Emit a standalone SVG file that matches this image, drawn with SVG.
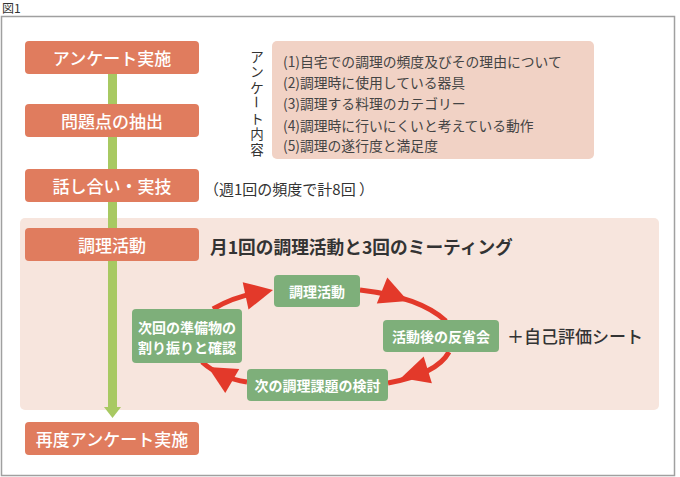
<svg xmlns="http://www.w3.org/2000/svg" xmlns:xlink="http://www.w3.org/1999/xlink" width="680" height="477" viewBox="0 0 680 477">
<style>
text{font-family:"Noto Sans CJK JP","Noto Sans",sans-serif;}
.ob{fill:#E07C5E;}
.ot{fill:#fff;font-size:17px;font-weight:500;text-anchor:middle;dominant-baseline:central;}
.gb{fill:#7EAF7A;}
.gt{fill:#fff;font-size:14px;font-weight:bold;text-anchor:middle;dominant-baseline:central;}
.dk{fill:#333;}
.li{fill:#444;font-size:13.8px;dominant-baseline:central;}
.vt{fill:#333;font-size:13.5px;text-anchor:middle;dominant-baseline:central;}
.red{fill:none;stroke:#E3392A;stroke-width:5;}
</style>
<defs>
<polygon id="ah" points="0,0 -28,-14 -28,14" fill="#E3392A"/>
</defs>
<text x="2" y="13" font-size="12" class="dk">図1</text>
<rect x="1.5" y="16.5" width="673" height="459" fill="#fff" stroke="#a0a0a0" stroke-width="1.5"/>
<rect x="20" y="218" width="639" height="192" rx="5" fill="#F7E5DD"/>
<g id="survey-items">
<rect x="272" y="41" width="322" height="118" rx="5" fill="#F1D2C5"/>
<text x="283" y="61" class="li">(1)自宅での調理の頻度及びその理由について</text>
<text x="283" y="82" class="li">(2)調理時に使用している器具</text>
<text x="283" y="103" class="li">(3)調理する料理のカテゴリー</text>
<text x="283" y="124.5" class="li">(4)調理時に行いにくいと考えている動作</text>
<text x="283" y="145" class="li">(5)調理の遂行度と満足度</text>
</g>
<g id="survey-label">
<text class="vt" x="257" y="55.5">ア</text>
<text class="vt" x="257" y="71">ン</text>
<text class="vt" x="257" y="86.5">ケ</text>
<text class="vt" x="257" y="102" transform="rotate(90 257 102)">ー</text>
<text class="vt" x="257" y="117.5">ト</text>
<text class="vt" x="257" y="133">内</text>
<text class="vt" x="257" y="148.5">容</text>
</g>
<g id="connectors">
<rect x="108" y="74" width="9" height="334" fill="#A8C962"/>
<polygon points="104,407 121,407 112.5,418" fill="#A8C962"/>
<path class="red" d="M213,309 Q235,296 262,292"/>
<use xlink:href="#ah" transform="translate(273,290) rotate(-12)"/>
<path class="red" d="M360,290 Q420,297 446,321"/>
<use xlink:href="#ah" transform="translate(408,301) rotate(22)"/>
<path class="red" d="M449,352 Q437,374 388,383"/>
<use xlink:href="#ah" transform="translate(401,378) rotate(163)"/>
<path class="red" d="M247,382 Q220,378 202,362"/>
<use xlink:href="#ah" transform="translate(208,367) rotate(210)"/>
</g>
<g id="n1"><rect class="ob" x="25" y="41" width="174" height="33" rx="4"/><text class="ot" x="112" y="57.5">アンケート実施</text></g>
<g id="n2"><rect class="ob" x="25" y="104" width="174" height="33" rx="4"/><text class="ot" x="112" y="120.5">問題点の抽出</text></g>
<g id="n3"><rect class="ob" x="25" y="169" width="174" height="33" rx="4"/><text class="ot" x="112" y="185.5">話し合い・実技</text></g>
<g id="n3-note"><text x="204" y="188" font-size="15" class="dk" dominant-baseline="central">（週1回の頻度で計8回 ）</text></g>
<g id="n4"><rect class="ob" x="25" y="228" width="174" height="33" rx="4"/><text class="ot" x="112" y="244.5">調理活動</text></g>
<g id="n4-note"><text x="210" y="246" font-size="17.7" font-weight="bold" class="dk" dominant-baseline="central">月1回の調理活動と3回のミーティング</text></g>
<g id="n5"><rect class="ob" x="25" y="422" width="174" height="33" rx="4"/><text class="ot" x="112" y="438.5">再度アンケート実施</text></g>
<g id="c1"><rect class="gb" x="274" y="275" width="86" height="32" rx="4"/><text class="gt" x="317" y="291">調理活動</text></g>
<g id="c2"><rect class="gb" x="383" y="320" width="116" height="32" rx="4"/><text class="gt" x="441" y="336">活動後の反省会</text></g>
<g id="c2-note"><text x="507" y="335" font-size="17" font-weight="500" class="dk" dominant-baseline="central">＋自己評価シート</text></g>
<g id="c3"><rect class="gb" x="247" y="369" width="141" height="32" rx="4"/><text class="gt" x="317.5" y="385">次の調理課題の検討</text></g>
<g id="c4"><rect class="gb" x="132" y="309" width="110" height="54" rx="4"/><text class="gt" x="187" y="327">次回の準備物の</text><text class="gt" x="187" y="347">割り振りと確認</text></g>
</svg>
